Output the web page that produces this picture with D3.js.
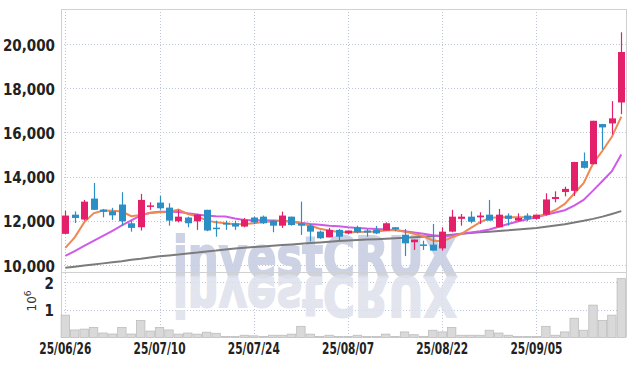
<!DOCTYPE html>
<html><head><meta charset="utf-8">
<script src="https://cdn.jsdelivr.net/npm/d3@7"></script>
<style>body{margin:0;background:#fff}svg{display:block}</style>
</head><body><svg id="c" width="634" height="366"></svg>
<script>
const dates = ["2025-06-26","2025-06-27","2025-06-30","2025-07-01","2025-07-02","2025-07-03","2025-07-04","2025-07-07","2025-07-08","2025-07-09",
"2025-07-10","2025-07-11","2025-07-14","2025-07-15","2025-07-16","2025-07-17","2025-07-18","2025-07-21","2025-07-22","2025-07-23",
"2025-07-24","2025-07-25","2025-07-28","2025-07-29","2025-07-30","2025-07-31","2025-08-01","2025-08-04","2025-08-05","2025-08-06",
"2025-08-07","2025-08-08","2025-08-11","2025-08-12","2025-08-13","2025-08-14","2025-08-18","2025-08-19","2025-08-20","2025-08-21",
"2025-08-22","2025-08-25","2025-08-26","2025-08-27","2025-08-28","2025-08-29","2025-09-01","2025-09-02","2025-09-03","2025-09-04",
"2025-09-05","2025-09-08","2025-09-09","2025-09-10","2025-09-11","2025-09-12","2025-09-15","2025-09-16","2025-09-17","2025-09-18"];
const opens = [11400,12270,12050,13000,12500,12420,12730,11880,11700,12670,12820,12590,11970,12140,11970,12490,11680,11890,11880,11730,
12140,12180,12000,11770,12180,11880,11770,11500,11240,11580,11420,11700,11550,11580,11550,11700,11360,11020,10920,10910,
10740,11500,12080,12180,12150,12270,11700,12230,12000,12230,12080,12270,12980,13300,13350,14700,14560,16380,16410,17360];
const highs = [12450,12420,12940,13710,12530,12580,13290,12000,13210,12830,13120,12790,12490,12180,12300,12490,12000,12000,12000,12120,
12180,12230,12030,12410,12180,12860,11850,11550,11670,11620,11550,11770,11620,11760,11920,11700,11620,11140,11090,11850,
11700,12490,12300,12420,12380,12940,12530,12330,12330,12330,12270,13240,13330,13540,14670,15090,16530,16380,17420,20545];
const lows = [11390,11890,12000,12480,12150,12030,11770,11500,11550,12490,12490,11770,11920,11700,11580,11520,11270,11580,11580,11700,
11850,11850,11470,11670,11770,11350,11060,11170,11240,11120,11390,11420,11270,11390,11550,11520,10390,10670,10670,10640,
10640,11470,11770,11880,11850,12000,11700,11770,11970,11970,12050,12230,12830,13100,13120,14360,14560,15230,15910,16830];
const closes = [12230,12120,12860,12490,12400,12240,11970,11670,12940,12690,12560,12000,12180,11880,12270,11550,11660,11820,11730,12050,
11920,11880,11770,12230,11800,11770,11500,11200,11580,11270,11550,11470,11460,11420,11880,11610,10970,11140,10900,10640,
11500,12180,12180,11950,12230,12000,12270,12080,12120,12080,12270,12960,13070,13440,14660,14395,16530,16230,16640,19650];
const volumes = [0.80,0.27,0.30,0.36,0.16,0.125,0.36,0.125,0.61,0.23,0.36,0.27,0.12,0.16,0.12,0.19,0.15,0.04,0.04,0.08,
0.06,0.04,0.08,0.08,0.12,0.40,0.12,0.04,0.08,0.04,0.04,0.08,0.04,0.04,0.12,0.04,0.20,0.10,0.04,0.26,
0.20,0.36,0.08,0.08,0.08,0.26,0.16,0.08,0.04,0.04,0.04,0.40,0.08,0.20,0.69,0.26,1.16,0.61,0.80,2.11];
const ma5 = [10760,11240,11920,12330,12460,12450,12410,12200,12260,12350,12380,12390,12500,12300,12200,12000,11930,11880,11830,11850,
11880,11940,11960,11990,11950,11880,11770,11630,11550,11480,11470,11480,11490,11510,11550,11570,11500,11400,11290,11100,
11050,11240,11390,11660,11920,12120,12150,12150,12150,12150,12180,12300,12480,12760,13230,13700,14590,15170,15800,16720];
const ma20 = [10400,10620,10850,11080,11310,11540,11780,12010,12240,12360,12400,12400,12390,12330,12280,12220,12200,12190,12100,12030,
12020,12020,12010,11990,11960,11900,11850,11810,11770,11740,11700,11670,11640,11620,11600,11570,11520,11460,11400,11340,
11280,11330,11400,11460,11520,11600,11720,11850,11960,12060,12150,12260,12370,12470,12680,12940,13360,13800,14240,15000];
const ma60 = [9860,9910,9960,10010,10060,10110,10160,10220,10270,10330,10380,10420,10460,10510,10550,10600,10640,10690,10730,10770,
10800,10830,10860,10890,10920,10950,10980,11010,11040,11070,11100,11120,11140,11160,11180,11200,11220,11250,11270,11300,
11320,11360,11400,11440,11470,11500,11530,11560,11600,11630,11660,11720,11780,11840,11910,11990,12080,12180,12300,12430];
const priceTicks = [10000,12000,14000,16000,18000,20000];
const volTicks = [1,2];
const tickIdx = [0,10,20,30,40,50];

const svg = d3.select("#c");
const L = 61, R = 626, T = 9, SEP = 272, B = 337.5;
const parse = d3.timeParse("%Y-%m-%d");
const fmt = d3.timeFormat("%y/%m/%d");
const x = d3.scaleBand().domain(dates).range([60.6, 626]).padding(0);
const cx = d => x(d) + x.bandwidth()/2;
const y = d3.scaleLinear().domain([10000, 20000]).range([264.7, 44.3]);
const yv = d3.scaleLinear().domain([0, 2]).range([B, 281.7]);
const FONT = "'Liberation Sans Narrow','DejaVu Sans Condensed',sans-serif";

svg.append("rect").attr("width",634).attr("height",366).attr("fill","#fff");

// grid
const grid = svg.append("g").attr("stroke","#bcc4d8").attr("stroke-dasharray","1,2").attr("stroke-width",1);
priceTicks.forEach(v => grid.append("line").attr("x1",L).attr("x2",R).attr("y1",Math.round(y(v))+0.5).attr("y2",Math.round(y(v))+0.5));
volTicks.forEach(v => grid.append("line").attr("x1",L).attr("x2",R).attr("y1",Math.round(yv(v))+0.5).attr("y2",Math.round(yv(v))+0.5));
tickIdx.forEach(i => grid.append("line").attr("x1",Math.round(cx(dates[i]))+0.5).attr("x2",Math.round(cx(dates[i]))+0.5).attr("y1",T).attr("y2",B));

// watermark
const wm = svg.append("g").attr("font-family","'DejaVu Sans', sans-serif").attr("font-weight","bold").attr("font-size",55);
wm.append("text").attr("x",173).attr("y",276).attr("textLength",284).attr("lengthAdjust","spacingAndGlyphs")
  .attr("fill","#c8cfe3").attr("stroke","#c8cfe3").attr("stroke-width",2).attr("opacity",0.9).text("investCRUX");
wm.append("text").attr("x",173).attr("y",277).attr("textLength",284).attr("lengthAdjust","spacingAndGlyphs")
  .attr("transform","translate(0,554) scale(1,-1)").attr("fill","#dde1ec").attr("stroke","#dde1ec").attr("stroke-width",2)
  .attr("opacity",0.85).text("investCRUX");

// borders
const bd = svg.append("g").attr("stroke","#d0d0d0").attr("stroke-width",1);
bd.append("line").attr("x1",L+0.5).attr("x2",L+0.5).attr("y1",T).attr("y2",B);
bd.append("line").attr("x1",R+0.5).attr("x2",R+0.5).attr("y1",T).attr("y2",B);
bd.append("line").attr("x1",L).attr("x2",R).attr("y1",T+0.5).attr("y2",T+0.5);
bd.append("line").attr("x1",L).attr("x2",R).attr("y1",SEP+0.5).attr("y2",SEP+0.5);

// volume bars
svg.append("g").selectAll("rect").data(dates).join("rect")
  .attr("x", d => x(d)+0.5).attr("width", x.bandwidth()-1)
  .attr("y", (d,i) => yv(volumes[i])).attr("height", (d,i) => B - yv(volumes[i]))
  .attr("fill","#d9d9d9").attr("stroke","#bdbdbd").attr("stroke-width",0.8);

// moving averages
const line = arr => d3.line().x((d,i) => cx(dates[i])).y(d => y(d))(arr);
svg.append("path").attr("d", line(ma60)).attr("fill","none").attr("stroke","#7b7b7b").attr("stroke-width",2);
svg.append("path").attr("d", line(ma20)).attr("fill","none").attr("stroke","#cf5ae8").attr("stroke-width",2);
svg.append("path").attr("d", line(ma5)).attr("fill","none").attr("stroke","#ef8853").attr("stroke-width",2);

// candles
const UP = "#e5206a", DN = "#2b8fc6";
const cg = svg.append("g");
dates.forEach((d,i) => {
  const col = closes[i] >= opens[i] ? UP : DN;
  const xc = Math.round(cx(d)) + 0.5;
  cg.append("line").attr("x1",xc).attr("x2",xc).attr("y1",y(highs[i])).attr("y2",y(lows[i])).attr("stroke",col).attr("stroke-width",1.2);
  const top = y(Math.max(opens[i],closes[i])), bot = y(Math.min(opens[i],closes[i]));
  cg.append("rect").attr("x",xc-3.5).attr("width",7).attr("y",top).attr("height",Math.max(1.5,bot-top)).attr("fill",col);
});

// axes
const ya = svg.append("g").attr("transform",`translate(${L},0)`)
  .call(d3.axisLeft(y).tickValues(priceTicks).tickFormat(d3.format(",")).tickSize(0).tickPadding(6));
ya.select(".domain").remove();
ya.selectAll("text").attr("font-family",FONT).attr("font-weight","bold").attr("font-size",15).attr("fill","#222").attr("dy","0.42em");

const va = svg.append("g").attr("transform",`translate(${L},0)`)
  .call(d3.axisLeft(yv).tickValues(volTicks).tickFormat(d3.format("d")).tickSize(0).tickPadding(7));
va.select(".domain").remove();
va.selectAll("text").attr("font-family",FONT).attr("font-weight","bold").attr("font-size",15).attr("fill","#222").attr("dy","0.42em");

const unit = svg.append("text").attr("transform","translate(36,301) rotate(-90)").attr("text-anchor","middle")
  .attr("font-family","'DejaVu Sans',sans-serif").attr("font-size",12).attr("fill","#333");
unit.append("tspan").text("10");
unit.append("tspan").attr("dy",-5).attr("font-size",9).text("6");

const xa = svg.append("g").attr("transform",`translate(0,${B})`)
  .call(d3.axisBottom(x).tickValues(tickIdx.map(i => dates[i])).tickFormat(d => fmt(parse(d))).tickSize(0).tickPadding(6));
xa.select(".domain").remove();
xa.selectAll("text").attr("font-family",FONT).attr("font-weight","bold").attr("font-size",15).attr("fill","#222")
  .attr("textLength",52).attr("lengthAdjust","spacingAndGlyphs").attr("x",-26).attr("text-anchor","start");
</script></body></html>
